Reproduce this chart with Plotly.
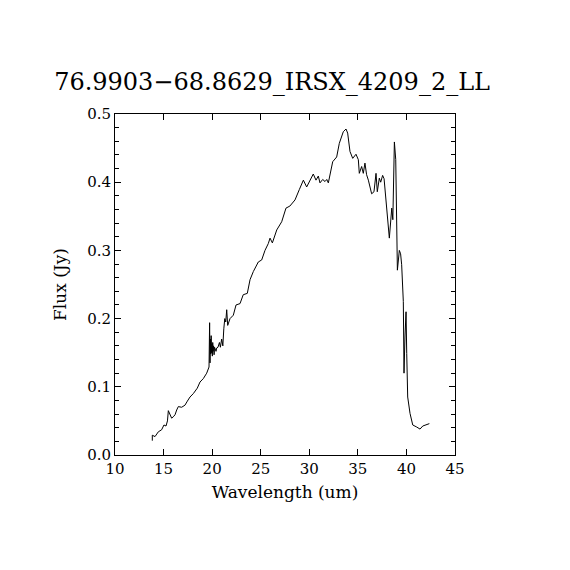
import plotly.graph_objects as go

# spectrum
wavelength = [13.84, 13.84, 14.12, 14.30, 14.46, 14.80, 15.04, 15.25, 15.40, 15.49,
              15.66, 15.83, 16.00, 16.18, 16.35, 16.52, 16.86, 17.20, 17.45, 17.72,
              18.06, 18.47, 18.75, 19.09, 19.44, 19.68, 19.74, 19.78, 19.82, 19.86,
              19.90, 19.94, 19.98, 20.02, 20.06, 20.10, 20.15, 20.20, 20.25, 20.30,
              20.40, 20.47, 20.60, 20.75, 20.85, 20.98, 21.10, 21.20, 21.30, 21.40,
              21.50, 21.60, 21.84, 22.18, 22.46, 22.87, 23.20, 23.62, 23.90, 24.24,
              24.75, 25.10, 25.44, 25.78, 25.96, 26.20, 26.65, 27.16, 27.60, 28.00,
              28.53, 28.97, 29.39, 29.73, 30.07, 30.41, 30.69, 30.93, 31.10, 31.38,
              31.62, 31.80, 31.96, 32.20, 32.41, 32.82, 33.09, 33.50, 33.78, 33.95,
              34.19, 34.47, 34.81, 35.05, 35.15, 35.39, 35.56, 35.73, 35.90, 36.08,
              36.42, 36.66, 36.87, 37.00, 37.21, 37.35, 37.55, 37.70, 37.87, 38.04,
              38.24, 38.49, 38.60, 38.76, 38.90, 39.07, 39.27, 39.40, 39.51, 39.68,
              39.75, 39.85, 39.96, 40.03, 40.13, 40.37, 40.65, 41.06, 41.40, 41.68,
              42.36]
flux = [0.021, 0.029, 0.027, 0.031, 0.034, 0.037, 0.044, 0.0425, 0.050, 0.065,
        0.059, 0.054, 0.056, 0.059, 0.066, 0.071, 0.070, 0.073, 0.079, 0.085,
        0.090, 0.098, 0.107, 0.112, 0.120, 0.129, 0.194, 0.135, 0.170, 0.148,
        0.175, 0.150, 0.163, 0.145, 0.165, 0.152, 0.160, 0.147, 0.158, 0.155,
        0.152, 0.157, 0.158, 0.165, 0.158, 0.170, 0.160, 0.185, 0.200, 0.195,
        0.213, 0.190, 0.200, 0.205, 0.220, 0.222, 0.235, 0.237, 0.257, 0.269,
        0.283, 0.286, 0.300, 0.310, 0.318, 0.311, 0.330, 0.342, 0.362, 0.365,
        0.374, 0.389, 0.403, 0.393, 0.403, 0.412, 0.403, 0.409, 0.399, 0.404,
        0.401, 0.404, 0.399, 0.418, 0.430, 0.437, 0.457, 0.474, 0.478, 0.472,
        0.445, 0.435, 0.441, 0.433, 0.413, 0.423, 0.413, 0.428, 0.411, 0.403,
        0.383, 0.386, 0.413, 0.386, 0.406, 0.400, 0.410, 0.405, 0.374, 0.347,
        0.318, 0.362, 0.345, 0.459, 0.433, 0.271, 0.300, 0.295, 0.279, 0.225,
        0.120, 0.173, 0.210, 0.149, 0.085, 0.061, 0.044, 0.041, 0.038, 0.0425,
        0.046]

title = "76.9903\u221268.8629_IRSX_4209_2_LL"
font_family = "DejaVu Serif"

fig = go.Figure()
fig.add_trace(go.Scatter(x=wavelength, y=flux, mode="lines",
                         line=dict(color="black", width=1), showlegend=False))

fig.update_layout(
    width=570, height=570,
    margin=dict(l=107, r=123, t=106, b=123),
    paper_bgcolor="white", plot_bgcolor="white",
    font=dict(family=font_family, color="black", size=15),
    title=dict(text=title, x=0.462, xref="paper", xanchor="center",
               y=1 - 74 / 570, yref="container", yanchor="middle",
               font=dict(size=24, family=font_family)),
)
fig.update_xaxes(
    range=[10, 45], dtick=5, tick0=10, showgrid=False, zeroline=False,
    showline=True, linecolor="black", linewidth=1, mirror="allticks",
    ticks="inside", ticklen=6, tickcolor="black",
    title=dict(text="Wavelength (um)", font=dict(size=17), standoff=9),
)
fig.update_yaxes(
    range=[0, 0.5], dtick=0.1, tick0=0, tickformat=".1f", showgrid=False,
    zeroline=False, showline=True, linecolor="black", linewidth=1,
    mirror="allticks", ticks="inside", ticklen=6, tickcolor="black",
    minor=dict(dtick=0.02, ticks="inside", ticklen=4, tickcolor="black"),
    title=dict(text="Flux (Jy)", font=dict(size=17), standoff=16),
)

fig.write_html("out.html")
